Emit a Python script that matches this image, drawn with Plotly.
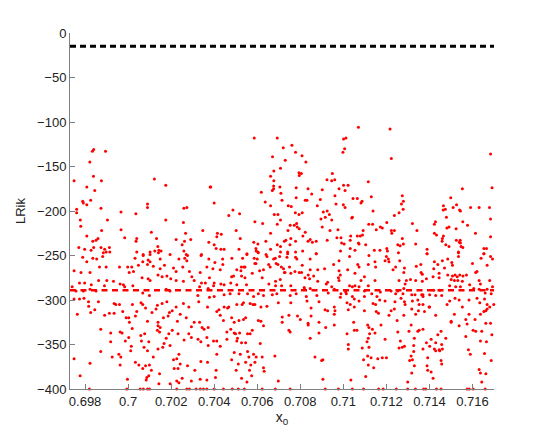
import plotly.graph_objects as go

# ── data (x0, LRik) ──────────────────────────────────────────────────────────
pts_left_upper = [
    (0.69749, -166), (0.69761, -198), (0.69761, -202), (0.69771, -241), (0.69778, -210),
    (0.69780, -217), (0.69789, -189), (0.69792, -191), (0.69798, -243), (0.69808, -173),
    (0.69808, -193), (0.69808, -228), (0.69822, -145), (0.69826, -188), (0.69828, -244),
    (0.69834, -133), (0.69836, -234), (0.69839, -161), (0.69840, -131), (0.69840, -241),
    (0.69845, -177), (0.69851, -233), (0.69860, -231), (0.69874, -197), (0.69874, -241),
    (0.69876, -166), (0.69877, -222), (0.69891, -243), (0.69895, -133), (0.69898, -246),
    (0.69904, -210), (0.69913, -241), (0.69915, -246), (0.69967, -201), (0.69967, -221),
    (0.69984, -230), (0.70036, -203), (0.70037, -234), (0.70040, -231), (0.70040, -246),
    (0.70070, -249), (0.70090, -192), (0.70090, -196), (0.70102, -246), (0.70108, -224),
    (0.70122, -164), (0.70124, -245), (0.70132, -231), (0.70138, -240), (0.70143, -244),
    (0.70153, -245), (0.70175, -171), (0.70175, -210), (0.70223, -232), (0.70251, -238),
    (0.70257, -213), (0.70259, -197), (0.70259, -245), (0.70262, -234), (0.70267, -225),
    (0.70270, -249), (0.70273, -196), (0.70291, -232), (0.70341, -249), (0.70347, -222),
    (0.70375, -235), (0.70381, -173),
]

pts_left_lower = [
    (0.69789, -252), (0.69836, -253), (0.69854, -254), (0.69882, -251), (0.69885, -247),
    (0.70032, -253), (0.70070, -250), (0.70102, -249), (0.70102, -257), (0.70141, -247),
    (0.70149, -254), (0.70195, -249), (0.70236, -254), (0.70263, -253), (0.70276, -250),
    (0.70273, -256), (0.70339, -250), (0.70375, -254),
    (0.69749, -267), (0.69781, -269), (0.69808, -257), (0.69823, -269), (0.69867, -263),
    (0.69898, -263), (0.69960, -263), (0.69998, -263), (0.70017, -263), (0.70005, -269),
    (0.70025, -268), (0.70048, -261), (0.70068, -257), (0.70090, -260), (0.70093, -255),
    (0.70117, -262), (0.70149, -265), (0.70169, -261), (0.70211, -264), (0.70223, -268),
    (0.70254, -263), (0.70285, -268), (0.70296, -274), (0.70335, -269), (0.70366, -263),
    (0.69774, -281), (0.69798, -281), (0.69829, -283), (0.69863, -278), (0.69901, -278),
    (0.69932, -279), (0.69963, -282), (0.69984, -285), (0.70022, -284), (0.70065, -275),
    (0.70093, -276), (0.70102, -278), (0.70139, -272), (0.70158, -274), (0.70180, -273),
    (0.70198, -276), (0.70223, -278), (0.70257, -279), (0.70307, -278), (0.70341, -281),
    (0.70378, -275), (0.70359, -281),
    (0.69740, -285), (0.69758, -290), (0.69792, -290), (0.69823, -288), (0.69851, -290),
    (0.69890, -284), (0.69978, -283), (0.70068, -292), (0.70177, -288), (0.70195, -290),
    (0.70332, -285), (0.70372, -287), (0.70324, -295),
    (0.69749, -299), (0.69774, -299), (0.69795, -298), (0.69816, -302), (0.69817, -307),
    (0.69845, -311), (0.69862, -302), (0.69891, -317), (0.69913, -315), (0.69935, -304),
    (0.69943, -305), (0.69935, -315), (0.69960, -305), (0.69975, -313), (0.69991, -320),
    (0.70003, -320), (0.70020, -305), (0.70006, -325), (0.70040, -313), (0.70034, -318),
    (0.70060, -303), (0.70068, -305), (0.70081, -309), (0.70099, -295), (0.70090, -324),
    (0.70111, -314), (0.70130, -310), (0.70136, -306), (0.70139, -325), (0.70158, -304),
    (0.70164, -320), (0.70180, -302), (0.70192, -314), (0.70186, -318), (0.70205, -312),
    (0.70223, -308), (0.70229, -324), (0.70242, -316), (0.70257, -304), (0.70270, -320),
    (0.70282, -308), (0.70294, -330), (0.70307, -325), (0.70328, -302), (0.70332, -325),
    (0.70344, -331), (0.70353, -333), (0.70369, -308), (0.70378, -297), (0.70372, -331),
    (0.69764, -316), (0.69826, -314), (0.69873, -333),
    (0.69919, -337), (0.69963, -336), (0.69972, -337), (0.69987, -346), (0.70003, -342),
    (0.70019, -332), (0.70059, -340), (0.70062, -346), (0.70077, -338), (0.70096, -347),
    (0.70136, -334), (0.70139, -329), (0.70146, -336), (0.70149, -331), (0.70167, -349),
    (0.70177, -343), (0.70189, -338), (0.70205, -334), (0.70232, -338), (0.70260, -345),
    (0.70282, -338), (0.70294, -342), (0.70325, -344), (0.70338, -347), (0.70366, -342),
    (0.70372, -351),
    (0.69749, -366), (0.69823, -371), (0.69873, -358), (0.69919, -347), (0.69926, -364),
    (0.69957, -361), (0.69963, -373), (0.69966, -364), (0.70012, -357), (0.70015, -352),
    (0.70034, -370), (0.70050, -373), (0.70068, -377), (0.70074, -353), (0.70090, -357),
    (0.70081, -374), (0.70099, -373), (0.70108, -379), (0.70117, -364), (0.70139, -355),
    (0.70146, -383), (0.70161, -353), (0.70195, -351), (0.70211, -367), (0.70226, -366),
    (0.70214, -377), (0.70232, -377), (0.70242, -372), (0.70236, -361), (0.70276, -374),
    (0.70310, -379), (0.70338, -369), (0.70369, -370),
    (0.69777, -385), (0.69997, -389), (0.70087, -387), (0.70096, -385), (0.70084, -390),
    (0.70143, -394), (0.70195, -394), (0.70226, -391), (0.70236, -393), (0.70251, -388),
    (0.70294, -391), (0.70335, -389), (0.70366, -390),
]

pts_mid_upper = [
    (0.70586, -118), (0.70693, -118), (0.70721, -129), (0.70761, -126), (0.70778, -134),
    (0.70808, -138), (0.70671, -139), (0.70730, -143), (0.70826, -145), (0.71001, -119),
    (0.71012, -118), (0.71006, -130), (0.70998, -134), (0.70708, -152), (0.70677, -155),
    (0.70794, -157), (0.70805, -158), (0.70795, -160), (0.70662, -161), (0.70949, -158),
    (0.70924, -165), (0.70946, -166), (0.70960, -165), (0.70677, -166), (0.70384, -173),
    (0.70676, -172), (0.70676, -175), (0.70705, -173), (0.70781, -174), (0.70836, -175),
    (0.70902, -176), (0.70980, -175), (0.71001, -171), (0.71022, -171), (0.71008, -177),
    (0.70670, -177), (0.70619, -179), (0.70710, -180), (0.70853, -181), (0.70961, -183),
    (0.70781, -185), (0.70400, -191), (0.70637, -190), (0.70662, -194), (0.70715, -188),
    (0.70744, -194), (0.70758, -195), (0.70823, -188), (0.70831, -188), (0.70893, -187),
    (0.70879, -194), (0.70966, -192), (0.71000, -193), (0.71008, -196), (0.70487, -199),
    (0.70518, -203), (0.70468, -205), (0.70679, -204), (0.70696, -204), (0.70777, -202),
    (0.70809, -202), (0.70794, -204), (0.70907, -201), (0.70925, -200), (0.70935, -204),
    (0.70916, -207), (0.70896, -209), (0.70946, -210), (0.70708, -210), (0.70589, -212),
    (0.70625, -214), (0.70693, -215), (0.70753, -216), (0.70772, -216), (0.70783, -214),
    (0.70786, -218), (0.70795, -220), (0.70902, -218), (0.71039, -208), (0.70415, -225),
    (0.70433, -226), (0.70412, -229), (0.70502, -222), (0.70662, -225), (0.70743, -222),
    (0.70823, -224), (0.70812, -228), (0.70938, -222), (0.70975, -221), (0.70970, -230),
    (0.70989, -230), (0.71034, -228), (0.70521, -231), (0.70400, -238), (0.70584, -235),
    (0.70603, -237), (0.70640, -234), (0.70693, -238), (0.70708, -240), (0.70726, -234),
    (0.70733, -233), (0.70756, -231), (0.70752, -238), (0.70778, -234), (0.70836, -234),
    (0.70846, -232), (0.70856, -235), (0.70874, -234), (0.70925, -233), (0.70992, -236),
    (0.71004, -237), (0.71032, -233), (0.70409, -242), (0.70431, -243), (0.70446, -243),
    (0.70515, -243), (0.70552, -249), (0.70594, -242), (0.70595, -245), (0.70603, -246),
    (0.70641, -249), (0.70662, -243), (0.70708, -246), (0.70741, -246), (0.70778, -246),
    (0.70811, -245), (0.70874, -248), (0.70987, -245), (0.71032, -242),
]

pts_mid_lower = [
    (0.70439, -254), (0.70482, -253), (0.70532, -253), (0.70552, -248), (0.70586, -253),
    (0.70605, -247), (0.70600, -254), (0.70645, -251), (0.70684, -253), (0.70704, -251),
    (0.70738, -252), (0.70741, -248), (0.70778, -252), (0.70784, -254), (0.70846, -254),
    (0.70874, -248), (0.70980, -256), (0.71029, -251),
    (0.70403, -258), (0.70440, -260), (0.70505, -266), (0.70526, -263), (0.70538, -263),
    (0.70543, -263), (0.70589, -259), (0.70594, -259), (0.70653, -260), (0.70660, -263),
    (0.70676, -254), (0.70688, -259), (0.70696, -260), (0.70712, -263), (0.70722, -265),
    (0.70729, -269), (0.70750, -263), (0.70756, -270), (0.70775, -268), (0.70809, -261),
    (0.70795, -269), (0.70846, -266), (0.70881, -266), (0.70913, -265), (0.70955, -260),
    (0.70980, -267),
    (0.70394, -265), (0.70428, -266), (0.70481, -274), (0.70490, -273), (0.70524, -267),
    (0.70527, -273), (0.70543, -275), (0.70577, -270), (0.70611, -267), (0.70623, -275),
    (0.70629, -266), (0.70685, -279), (0.70707, -277), (0.70713, -284), (0.70726, -269),
    (0.70806, -269), (0.70822, -275), (0.70837, -272), (0.70862, -273), (0.70843, -276),
    (0.70881, -279), (0.70921, -282), (0.70927, -280), (0.70977, -275), (0.70980, -278),
    (0.70986, -272), (0.71020, -266), (0.71029, -284),
    (0.70400, -281), (0.70397, -284), (0.70431, -282), (0.70446, -283), (0.70477, -281),
    (0.70505, -283), (0.70550, -283), (0.70654, -282), (0.70685, -284), (0.70756, -284),
    (0.70818, -286), (0.70820, -288), (0.70846, -287), (0.70946, -285),
    (0.70400, -296), (0.70446, -294), (0.70474, -293), (0.70515, -293), (0.70555, -293),
    (0.70583, -296), (0.70605, -293), (0.70629, -295), (0.70670, -294), (0.70691, -293),
    (0.70753, -295), (0.70781, -293), (0.70828, -296), (0.70877, -295), (0.70930, -292),
    (0.70958, -288), (0.70989, -293), (0.71011, -291), (0.71014, -293), (0.70986, -297),
    (0.71032, -305),
    (0.70412, -313), (0.70422, -311), (0.70428, -317), (0.70443, -323), (0.70446, -308),
    (0.70462, -309), (0.70468, -308), (0.70481, -320), (0.70493, -325), (0.70505, -305),
    (0.70515, -323), (0.70530, -305), (0.70536, -303), (0.70536, -322), (0.70546, -320),
    (0.70567, -304), (0.70580, -305), (0.70589, -305), (0.70605, -323), (0.70617, -324),
    (0.70617, -308), (0.70645, -307), (0.70698, -303), (0.70716, -319), (0.70716, -325),
    (0.70747, -317), (0.70756, -303), (0.70787, -318), (0.70800, -322), (0.70831, -301),
    (0.70836, -326), (0.70837, -328), (0.70850, -309), (0.70850, -318), (0.70887, -302),
    (0.70887, -325), (0.70915, -311), (0.70927, -312), (0.70958, -308), (0.70961, -312),
    (0.70958, -316), (0.70958, -328), (0.71017, -303), (0.71023, -311),
    (0.70397, -346), (0.70412, -346), (0.70428, -352), (0.70459, -336), (0.70459, -344),
    (0.70477, -333), (0.70493, -337), (0.70499, -338), (0.70508, -343), (0.70518, -337),
    (0.70505, -346), (0.70527, -348), (0.70546, -348), (0.70555, -338), (0.70567, -338),
    (0.70577, -334), (0.70614, -349), (0.70629, -329), (0.70747, -334), (0.70753, -336),
    (0.70846, -343), (0.70887, -337), (0.70918, -331), (0.71017, -338), (0.71023, -350),
    (0.70412, -361), (0.70481, -367), (0.70493, -359), (0.70512, -372), (0.70521, -361),
    (0.70546, -370), (0.70555, -358), (0.70561, -364), (0.70570, -373), (0.70583, -361),
    (0.70595, -364), (0.70589, -370), (0.70623, -364), (0.70629, -376), (0.70632, -380),
    (0.70682, -363), (0.70868, -364), (0.70899, -368), (0.70905, -367), (0.71023, -355),
    (0.70409, -379), (0.70502, -379), (0.70564, -379), (0.70527, -388), (0.70552, -392),
    (0.70406, -387), (0.70574, -385), (0.70698, -391), (0.70905, -389), (0.71035, -390),
]

pts_right_upper = [
    (0.71070, -106), (0.71217, -108), (0.71223, -141), (0.71684, -136), (0.71116, -167),
    (0.71130, -184), (0.71553, -175), (0.71691, -174), (0.71045, -186), (0.71065, -186),
    (0.71082, -191), (0.71087, -189), (0.71274, -183), (0.71279, -189), (0.71270, -192),
    (0.71499, -185), (0.71138, -200), (0.71278, -198), (0.71259, -202), (0.71237, -205),
    (0.71465, -194), (0.71474, -198), (0.71464, -199), (0.71510, -196), (0.71526, -193),
    (0.71540, -199), (0.71544, -200), (0.71591, -196), (0.71631, -196), (0.71679, -196),
    (0.71042, -207), (0.71479, -207), (0.71684, -209), (0.71118, -215), (0.71136, -215),
    (0.71202, -213), (0.71172, -218), (0.71181, -219), (0.71153, -221), (0.71223, -222),
    (0.71237, -222), (0.71225, -225), (0.71321, -214), (0.71342, -222), (0.71428, -212),
    (0.71423, -215), (0.71555, -212), (0.71577, -216), (0.71491, -218), (0.71481, -219),
    (0.71524, -220), (0.71423, -225), (0.71433, -227), (0.71465, -228), (0.71614, -225),
    (0.71684, -229), (0.71065, -228), (0.71079, -228), (0.71089, -227), (0.71092, -222),
    (0.71070, -236), (0.71073, -237), (0.71104, -238), (0.71274, -231), (0.71253, -238),
    (0.71264, -239), (0.71279, -237), (0.71336, -237), (0.71460, -231), (0.71459, -234),
    (0.71476, -238), (0.71491, -240), (0.71525, -233), (0.71543, -233), (0.71539, -235),
    (0.71544, -236), (0.71547, -240), (0.71555, -241), (0.71054, -244), (0.71144, -244),
    (0.71170, -244), (0.71202, -242), (0.71205, -245), (0.71256, -247), (0.71389, -243),
    (0.71389, -248), (0.71535, -246), (0.71653, -242), (0.71665, -242), (0.71653, -248),
]

pts_right_lower = [
    (0.71119, -250), (0.71200, -251), (0.71209, -254), (0.71262, -256), (0.71389, -248),
    (0.71423, -257), (0.71485, -254), (0.71504, -258), (0.71507, -261), (0.71535, -247),
    (0.71535, -251), (0.71600, -259), (0.71640, -253), (0.71653, -248), (0.71684, -251),
    (0.71067, -260), (0.71073, -263), (0.71116, -260), (0.71147, -257), (0.71150, -263),
    (0.71194, -256), (0.71212, -257), (0.71243, -263), (0.71284, -264), (0.71281, -269),
    (0.71339, -262), (0.71360, -260), (0.71420, -265), (0.71439, -260), (0.71460, -256),
    (0.71470, -264), (0.71361, -269), (0.71367, -271), (0.71417, -274), (0.71445, -270),
    (0.71485, -272), (0.71507, -273), (0.71519, -272), (0.71529, -274), (0.71541, -272),
    (0.71556, -273), (0.71572, -272), (0.71615, -269), (0.71621, -268), (0.71668, -261),
    (0.71693, -254),
    (0.71054, -270), (0.71082, -278), (0.71098, -274), (0.71147, -278), (0.71231, -266),
    (0.71259, -278), (0.71293, -278), (0.71312, -277), (0.71336, -278), (0.71367, -279),
    (0.71386, -276), (0.71445, -275), (0.71501, -277), (0.71516, -278), (0.71532, -278),
    (0.71553, -279), (0.71637, -282), (0.71631, -278), (0.71680, -278),
    (0.71042, -285), (0.71054, -284), (0.71073, -285), (0.71098, -290), (0.71116, -284),
    (0.71132, -293), (0.71172, -291), (0.71222, -290), (0.71243, -293), (0.71253, -290),
    (0.71277, -293), (0.71287, -282), (0.71318, -294), (0.71333, -294), (0.71364, -294),
    (0.71370, -294), (0.71401, -294), (0.71420, -289), (0.71448, -289), (0.71494, -284),
    (0.71522, -285), (0.71544, -285), (0.71587, -283), (0.71606, -287), (0.71631, -288),
    (0.71659, -292), (0.71668, -288), (0.71687, -293), (0.71693, -285), (0.71281, -287),
    (0.71042, -296), (0.71051, -299), (0.71073, -301), (0.71098, -296), (0.71138, -304),
    (0.71150, -305), (0.71156, -296), (0.71169, -300), (0.71194, -301), (0.71240, -302),
    (0.71268, -298), (0.71284, -302), (0.71287, -305), (0.71321, -301), (0.71346, -300),
    (0.71352, -305), (0.71370, -305), (0.71370, -296), (0.71429, -295), (0.71398, -308),
    (0.71457, -295), (0.71482, -305), (0.71494, -301), (0.71519, -298), (0.71538, -300),
    (0.71553, -308), (0.71584, -300), (0.71621, -298), (0.71634, -303), (0.71656, -299),
    (0.71668, -305), (0.71680, -308), (0.71699, -305), (0.71051, -308),
    (0.71098, -312), (0.71153, -313), (0.71163, -315), (0.71212, -317), (0.71222, -312),
    (0.71237, -310), (0.71250, -323), (0.71281, -317), (0.71318, -310), (0.71336, -316),
    (0.71349, -312), (0.71377, -313), (0.71401, -308), (0.71429, -317), (0.71501, -324),
    (0.71516, -316), (0.71538, -329), (0.71569, -322), (0.71575, -327), (0.71584, -316),
    (0.71612, -322), (0.71637, -316), (0.71653, -313), (0.71662, -312), (0.71668, -310),
    (0.71048, -325), (0.71063, -334), (0.71113, -328), (0.71119, -331), (0.71122, -338),
    (0.71135, -333), (0.71147, -337), (0.71175, -328), (0.71194, -344), (0.71253, -336),
    (0.71265, -346), (0.71274, -353), (0.71284, -352), (0.71305, -335), (0.71315, -328),
    (0.71330, -343), (0.71327, -351), (0.71346, -335), (0.71352, -334), (0.71370, -333),
    (0.71386, -348), (0.71401, -352), (0.71408, -344), (0.71423, -355), (0.71429, -348),
    (0.71439, -339), (0.71445, -356), (0.71454, -335), (0.71457, -350), (0.71460, -355),
    (0.71476, -343), (0.71501, -325), (0.71569, -341), (0.71603, -334), (0.71615, -335),
    (0.71637, -346), (0.71643, -335), (0.71662, -326), (0.71665, -347), (0.71684, -326),
    (0.71690, -339), (0.71051, -334),
    (0.71088, -354), (0.71110, -347), (0.71116, -343), (0.71119, -353), (0.71113, -363),
    (0.71129, -365), (0.71160, -366), (0.71181, -365), (0.71200, -365), (0.71094, -367),
    (0.71116, -373), (0.71141, -376), (0.71259, -354), (0.71315, -363), (0.71308, -368),
    (0.71321, -367), (0.71327, -358), (0.71330, -374), (0.71370, -355), (0.71392, -365),
    (0.71389, -374), (0.71392, -379), (0.71429, -357), (0.71454, -368), (0.71448, -357),
    (0.71457, -372), (0.71581, -356), (0.71590, -361), (0.71631, -378), (0.71637, -382),
    (0.71656, -360), (0.71662, -383), (0.71687, -368),
    (0.71104, -386), (0.71318, -382), (0.71408, -381), (0.71417, -388), (0.71643, -392),
    (0.71299, -392),
]

# points sitting on the lower limit (LRik = -400)
floor_x0 = [
    0.69820, 0.69994, 0.70056, 0.70071, 0.70090, 0.70099, 0.70226, 0.70273, 0.70285,
    0.70316, 0.70335, 0.70350, 0.70366, 0.70400, 0.70443, 0.70484, 0.70512, 0.70540,
    0.70623, 0.70684, 0.70753, 0.70916, 0.70977, 0.71042, 0.71094, 0.71164, 0.71185,
    0.71246, 0.71299, 0.71335, 0.71373, 0.71383, 0.71433, 0.71454, 0.71575, 0.71585,
    0.71603, 0.71659,
]
floor_lrik = -400

upper_bound = -15     # black dashed reference
mean_lrik = -289      # red dash-dot reference

x_range = [0.6973, 0.717]
x_ticks = [0.698, 0.7, 0.702, 0.704, 0.706, 0.708, 0.71, 0.712, 0.714, 0.716]
x_tick_text = ["0.698", "0.7", "0.702", "0.704", "0.706", "0.708", "0.71", "0.712", "0.714", "0.716"]
y_ticks = [0, -50, -100, -150, -200, -250, -300, -350, -400]

all_pts = (pts_left_upper + pts_left_lower + pts_mid_upper + pts_mid_lower
           + pts_right_upper + pts_right_lower)
xs = [p[0] for p in all_pts] + floor_x0
ys = [p[1] for p in all_pts] + [floor_lrik] * len(floor_x0)

FONT = "Liberation Sans, Arial, sans-serif"

fig = go.Figure()

fig.add_trace(go.Scatter(
    x=x_range, y=[upper_bound, upper_bound], mode="lines",
    line=dict(color="black", width=3, dash="6px,4px"),
    hoverinfo="skip",
))
fig.add_trace(go.Scatter(
    x=xs, y=ys, mode="markers",
    marker=dict(color="#ff0000", size=3, line=dict(width=0)),
    cliponaxis=False,
))
fig.add_trace(go.Scatter(
    x=x_range, y=[mean_lrik, mean_lrik], mode="lines",
    line=dict(color="#ff0000", width=2.5, dash="6px,4.5px"),
    hoverinfo="skip",
))

axis_common = dict(
    showgrid=False, zeroline=False, showline=True, linecolor="#808080", linewidth=1,
    ticks="inside", ticklen=5, tickcolor="#808080", mirror=False,
    tickfont=dict(family=FONT, size=13, color="#222"),
)

# page body has an 8px margin, so the figure is sized to fit inside the window
fig.update_layout(
    width=537, height=426,
    showlegend=False,
    plot_bgcolor="white", paper_bgcolor="white",
    margin=dict(l=62, r=51, t=25, b=45),
    xaxis=dict(
        range=x_range, tickvals=x_ticks, ticktext=x_tick_text,
        title=dict(text="x<sub>0</sub>", standoff=2, font=dict(family=FONT, size=14, color="#222")),
        **axis_common,
    ),
    yaxis=dict(
        range=[-400, 0], tickvals=y_ticks,
        title=dict(text="LRik", standoff=8, font=dict(family=FONT, size=13, color="#222")),
        **axis_common,
    ),
)

fig.write_html("out.html")
